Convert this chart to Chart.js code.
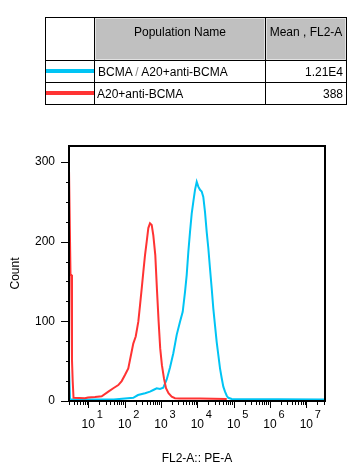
<!DOCTYPE html>
<html><head><meta charset="utf-8">
<script src="https://cdn.jsdelivr.net/npm/chart.js@4.4.1/dist/chart.umd.min.js"></script>
<style>
html,body{margin:0;padding:0;background:#fff;width:355px;height:476px;overflow:hidden;font-family:"Liberation Sans",Arial,sans-serif;}
#wrap{position:absolute;left:0;top:0;width:355px;height:476px;}
.ln{position:absolute;background:#000;}
.hd{position:absolute;background:#c0c0c0;border:1px solid #e2e2e2;box-sizing:border-box;}
.tx{position:absolute;font-size:12px;line-height:14px;height:14px;color:#000;white-space:nowrap;}
.lg{position:absolute;height:4px;}
</style></head>
<body>
<div id="wrap"><canvas id="c" width="355" height="476"></canvas></div>
<div id="tbl"></div>
<script>
// ---- data ----
const populations = ['BCMA / A20+anti-BCMA', 'A20+anti-BCMA'];
const means = ['1.21E4', '388'];
const headers = ['Population Name', 'Mean , FL2-A'];
const xTitle = 'FL2-A:: PE-A';
const yTitle = 'Count';
const xMin = 2.944, xMax = 3.27e7;
const yMin = 0, yMax = 320;
const yLabelStep = 100, yMinorStep = 25;
const xTickExponents = [1, 2, 3, 4, 5, 6, 7];

// A20+anti-BCMA (red)
const redX = [2.95, 3.1, 3.24, 3.4, 3.56, 3.72, 3.92, 8.1, 9.8, 15.3, 23.4, 35.6, 48.8, 67, 83,
  102, 126, 150, 173, 202, 238, 265, 295, 327, 364, 405, 449, 499, 556, 615,
  698, 773, 861, 953, 1062, 1213, 1377, 1614, 1977, 2432, 3342, 11885, 64600];
const redY = [288, 288, 158, 158, 51, 25, 4, 3.5, 4.5, 5, 6, 11.7, 16, 20, 25,
  32.6, 41, 58, 72, 81, 99.5, 120, 141, 162, 183, 200, 217, 223, 221, 208,
  183, 141, 100, 66, 45, 28, 16, 9.7, 5.4, 3.5, 3, 3, 2.5];

// BCMA / A20+anti-BCMA (blue)
const blueX = [2.95, 3.15, 50, 173, 233, 364, 499, 615, 764, 941, 1159, 1439, 1774, 2188, 2711,
  3342, 3966, 4592, 5105, 5662, 6295, 7015, 7762, 8650, 9636, 10665, 11885, 13210, 14630, 16300,
  18160, 20090, 22390, 24940, 27600, 30710, 34200, 37870, 42170, 46990, 52000, 57940, 64600, 71450, 88500, 3.27e7];
const blueY = [40, 2, 2, 4, 7.5, 9.7, 11.7, 13.8, 16, 15, 16.7, 27, 42, 60, 83,
  99.5, 112, 137, 158, 187, 212, 235, 250, 265, 275, 269, 265, 263, 256, 237,
  212, 192, 166, 141, 116, 95, 74, 58, 41, 28.5, 18, 11.7, 6.6, 4, 2.5, 2];

const BLUE = '#00c4f4', RED = '#ff3333';
const FONT = '"Liberation Sans", Arial, sans-serif';

// ---- table (HTML) ----
const tbl = document.getElementById('tbl');
function box(cls, l, t, w, h, extra) {
  const d = document.createElement('div'); d.className = cls;
  d.style.left = l + 'px'; d.style.top = t + 'px';
  if (w != null) d.style.width = w + 'px';
  if (h != null) d.style.height = h + 'px';
  if (extra) Object.assign(d.style, extra);
  tbl.appendChild(d); return d;
}
box('hd', 95, 18, 170, 42);
box('hd', 266, 18, 80, 42);
[17, 60, 82, 104].forEach(t => box('ln', 45, t, 302, 1));
[45, 94, 265, 346].forEach(l => box('ln', l, 17, 1, 88));
box('lg', 46, 69, 48, 4, {background: BLUE});
box('lg', 46, 91, 48, 4, {background: RED});
box('tx', 95, 25, 170, null, {textAlign: 'center'}).textContent = headers[0];
box('tx', 266, 25, 80, null, {textAlign: 'center'}).textContent = headers[1];
const r1 = box('tx', 98, 65, null, null);
const parts = populations[0].split(' / ');
r1.innerHTML = parts[0] + '<span style="color:#888"> / </span>' + parts[1];
box('tx', 97, 87, null, null).textContent = populations[1];
box('tx', 266, 65, 77, null, {textAlign: 'right'}).textContent = means[0];
box('tx', 266, 87, 77, null, {textAlign: 'right'}).textContent = means[1];

// ---- chart ----
const axisDeco = {
  id: 'axisDeco',
  afterDraw(chart) {
    const {ctx, chartArea: a, scales: {x, y}} = chart;
    ctx.save();
    ctx.strokeStyle = '#000';
    ctx.lineWidth = 1;
    ctx.beginPath();
    for (let v = yMin; v <= yMax; v += yMinorStep) {
      const py = Math.round(y.getPixelForValue(v)) + 0.5;
      const len = v % yLabelStep === 0 ? 8 : 3;
      ctx.moveTo(a.left - len, py); ctx.lineTo(a.left, py);
    }
    for (let k = 0; k <= 8; k++) {
      for (let m = 1; m <= 9; m++) {
        const v = m * Math.pow(10, k);
        if (v < xMin || v > xMax) continue;
        const px = Math.round(x.getPixelForValue(v)) + 0.5;
        const len = m === 1 ? 7 : 4;
        ctx.moveTo(px, a.bottom); ctx.lineTo(px, a.bottom + len);
      }
    }
    ctx.stroke();
    ctx.lineWidth = 2;
    ctx.strokeRect(a.left, a.top, a.right - a.left, a.bottom - a.top);
    ctx.fillStyle = '#000';
    ctx.textBaseline = 'alphabetic';
    xTickExponents.forEach(k => {
      const px = x.getPixelForValue(Math.pow(10, k));
      ctx.font = '12px ' + FONT; ctx.textAlign = 'center';
      ctx.fillText('10', px, 428);
      ctx.font = '11px ' + FONT; ctx.textAlign = 'left';
      ctx.fillText(String(k), px + 8.5, 417.5);
    });
    ctx.restore();
  }
};

new Chart(document.getElementById('c'), {
  type: 'line',
  data: {
    datasets: [
      {label: populations[1], data: redX.map((v, i) => ({x: v, y: redY[i]})),
       borderColor: RED, borderWidth: 2, pointRadius: 0, tension: 0, fill: false, order: 0},
      {label: populations[0], data: blueX.map((v, i) => ({x: v, y: blueY[i]})),
       borderColor: BLUE, borderWidth: 2, pointRadius: 0, tension: 0, fill: false, order: 1}
    ]
  },
  options: {
    responsive: false, animation: false, devicePixelRatio: 1,
    layout: {padding: {left: 0, top: 146, right: 30, bottom: 0}},
    plugins: {legend: {display: false}, tooltip: {enabled: false}},
    scales: {
      x: {type: 'logarithmic', min: xMin, max: xMax,
          grid: {display: false, drawTicks: false}, border: {display: false},
          ticks: {display: false},
          title: {display: true, text: xTitle, color: '#000', font: {size: 12, family: FONT}, padding: {top: 0, bottom: 10}},
          afterFit: s => { s.height = 75; }},
      y: {min: yMin, max: yMax,
          grid: {display: false, drawTicks: false}, border: {display: false},
          ticks: {stepSize: yLabelStep, includeBounds: false, padding: 14, color: '#000', font: {size: 12, family: FONT}},
          title: {display: true, text: yTitle, color: '#000', font: {size: 12, family: FONT}, padding: {top: 8, bottom: 0}},
          afterFit: s => { s.width = 69; }}
    }
  },
  plugins: [axisDeco]
});
</script>
</body></html>
